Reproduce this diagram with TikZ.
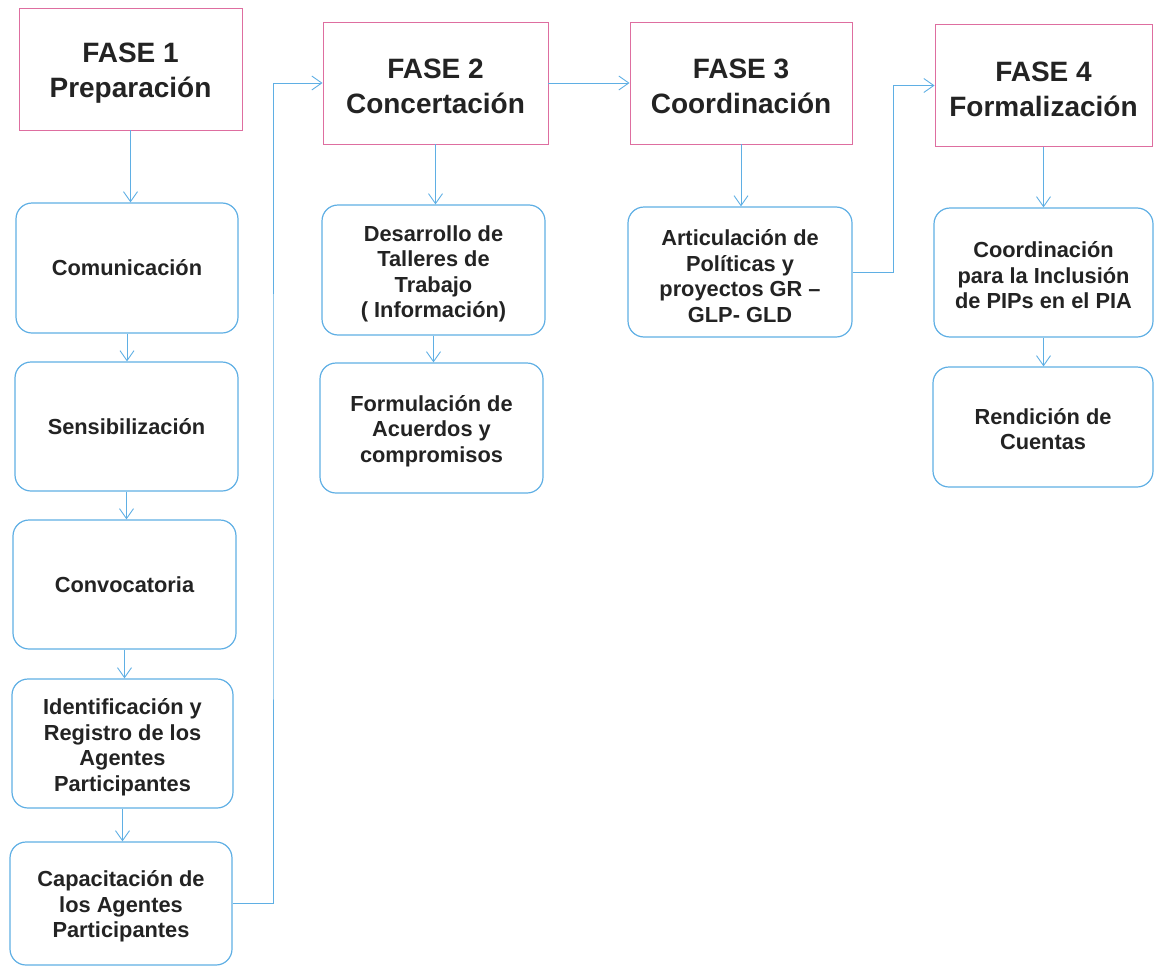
\documentclass[tikz,border=0pt]{standalone}
\usepackage{fontspec}
\setmainfont{Liberation Sans}
\usetikzlibrary{arrows.meta}
\definecolor{pinkc}{RGB}{222,110,160}
\definecolor{bluec}{RGB}{95,175,228}
\definecolor{txtc}{RGB}{35,35,35}
\tikzset{
  hdr/.style={draw=pinkc, line width=0.9pt, minimum width=#1, minimum height=122pt, inner sep=0pt},
  hdrtext/.style={align=center, text=txtc, inner sep=0pt, font=\bfseries\fontsize{28}{35}\selectfont},
  stepbox/.style={draw=bluec, line width=1.2pt, rounded corners=16pt, inner sep=0pt},
  boxtext/.style={align=center, text=txtc, inner sep=0pt, font=\bfseries\fontsize{21.8}{25.5}\selectfont},
  conn/.style={draw=bluec, line width=1pt, -{Straight Barb[length=10pt,width=14pt,line width=0.9pt]}},
}
\begin{document}
\begin{tikzpicture}[x=1pt,y=-1pt]
\useasboundingbox (0,0) rectangle (1155,966);
% headers
\node[hdr=223pt] (h1) at (130.5,69) {};
\node[hdr=225pt] (h2) at (435.5,83) {};
\node[hdr=222pt] (h3) at (741,83) {};
\node[hdr=217pt] (h4) at (1043.5,85.5) {};
\node[hdrtext] (h1t) at ([yshift=-4pt]h1.center) {FASE 1\\Preparación};
\node[hdrtext] (h2t) at ([yshift=-3pt]h2.center) {FASE 2\\Concertación};
\node[hdrtext] (h3t) at ([yshift=-3pt]h3.center) {FASE 3\\Coordinación};
\node[hdrtext] (h4t) at ([yshift=-3.5pt]h4.center) {FASE 4\\Formalización};
% fase 1
\node[stepbox, minimum width=222pt, minimum height=130pt] (c1) at (127,268) {};
\node[stepbox, minimum width=223pt, minimum height=129pt] (c2) at (126.5,426.5) {};
\node[stepbox, minimum width=223pt, minimum height=129pt] (c3) at (124.5,584.5) {};
\node[stepbox, minimum width=221pt, minimum height=129pt] (c4) at (122.5,743.5) {};
\node[stepbox, minimum width=222pt, minimum height=123pt] (c5) at (121,903.5) {};
\node[boxtext] (c1t) at (c1.center) {Comunicación};
\node[boxtext] (c2t) at (c2.center) {Sensibilización};
\node[boxtext] (c3t) at (c3.center) {Convocatoria};
\node[boxtext] (c4t) at ([yshift=-4pt]c4.center) {Identificación y\\Registro de los\\Agentes\\Participantes};
\node[boxtext] (c5t) at ([yshift=-3pt]c5.center) {Capacitación de\\los Agentes\\Participantes};
% fase 2
\node[stepbox, minimum width=223pt, minimum height=130pt] (d1) at (433.5,270) {};
\node[stepbox, minimum width=223pt, minimum height=130pt] (d2) at (431.5,428) {};
\node[boxtext] (d1t) at ([yshift=-4pt]d1.center) {Desarrollo de\\Talleres de\\Trabajo\\( Información)};
\node[boxtext] (d2t) at ([yshift=-3pt]d2.center) {Formulación de\\Acuerdos y\\compromisos};
% fase 3
\node[stepbox, minimum width=224pt, minimum height=130pt] (e1) at (740,272) {};
\node[boxtext] (e1t) at ([yshift=-4pt]e1.center) {Articulación de\\Políticas y\\proyectos GR –\\GLP- GLD};
% fase 4
\node[stepbox, minimum width=219pt, minimum height=129pt] (f1) at (1043.5,272.5) {};
\node[stepbox, minimum width=220pt, minimum height=120pt] (f2) at (1043,427) {};
\node[boxtext] (f1t) at ([yshift=-3pt]f1.center) {Coordinación\\para la Inclusión\\de PIPs en el PIA};
\node[boxtext] (f2t) at ([yshift=-2pt]f2.center) {Rendición de\\Cuentas};
% junction coordinates
\coordinate (j1) at (273,500);
\coordinate (j2) at (893,200);
% connectors
\draw[conn] (h1.south) -- (h1.south |- c1.north);
\draw[conn] (c1.south) -- (c1.south |- c2.north);
\draw[conn] (c2.south) -- (c2.south |- c3.north);
\draw[conn] (c3.south) -- (c3.south |- c4.north);
\draw[conn] (c4.south) -- (c4.south |- c5.north);
\draw[conn] (c5.east) -| (j1) |- (h2.west);
\draw[conn] (h2.south) -- (h2.south |- d1.north);
\draw[conn] (d1.south) -- (d1.south |- d2.north);
\draw[conn] (h2.east) -- (h3.west);
\draw[conn] (h3.south) -- (h3.south |- e1.north);
\draw[conn] (e1.east) -| (j2) |- (h4.west);
\draw[conn] (h4.south) -- (h4.south |- f1.north);
\draw[conn] (f1.south) -- (f1.south |- f2.north);
\end{tikzpicture}
\end{document}
